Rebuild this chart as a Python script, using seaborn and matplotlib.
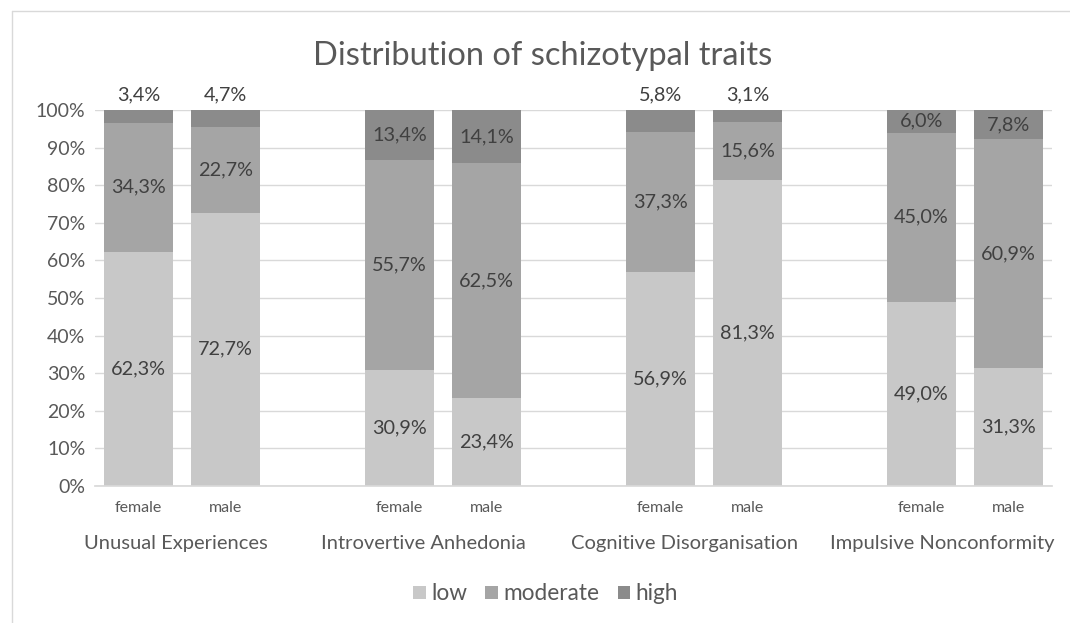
import matplotlib
matplotlib.use("Agg")
import matplotlib.pyplot as plt
from matplotlib.patches import Patch
from matplotlib.lines import Line2D
import seaborn as sns
import pandas as pd
import numpy as np

traits = ["Unusual Experiences", "Introvertive Anhedonia",
          "Cognitive Disorganisation", "Impulsive Nonconformity"]
sexes = ["female", "male"]
levels = ["low", "moderate", "high"]

low_female = [62.3, 30.9, 56.9, 49.0]
moderate_female = [34.3, 55.7, 37.3, 45.0]
high_female = [3.4, 13.4, 5.8, 6.0]
low_male = [72.7, 23.4, 81.3, 31.3]
moderate_male = [22.7, 62.5, 15.6, 60.9]
high_male = [4.7, 14.1, 3.1, 7.8]

colors = {"low": "#c8c8c8", "moderate": "#a5a5a5", "high": "#8b8b8b"}
text_col = "#595959"
label_col = "#404040"
FONT = ["Lato", "DejaVu Sans"]

sns.set_theme(style="white")
plt.rcParams["font.family"] = FONT

rows = []
for i, t in enumerate(traits):
    for j, s in enumerate(sexes):
        lo = (low_female if s == "female" else low_male)[i]
        mo = (moderate_female if s == "female" else moderate_male)[i]
        hi = (high_female if s == "female" else high_male)[i]
        rows.append(dict(trait=t, sex=s, pos=i * 3 + j, low=lo, moderate=mo, high=hi))
df = pd.DataFrame(rows)
df["c_low"] = df["low"]
df["c_mod"] = df["low"] + df["moderate"]
df["c_high"] = df["low"] + df["moderate"] + df["high"]

fig = plt.figure(figsize=(10.7, 6.23), dpi=100)
ax = fig.add_axes([95 / 1070, 1 - 486 / 623, (1052 - 95) / 1070, (486 - 110) / 623])

for col, lev in [("c_high", "high"), ("c_mod", "moderate"), ("c_low", "low")]:
    sns.barplot(data=df, x="pos", y=col, native_scale=True, color=colors[lev],
                width=0.8, saturation=1, errorbar=None, ax=ax, zorder=2,
                linewidth=0, edgecolor="none")

ax.set_xlim(-0.5, 10.5)
ax.set_ylim(0, 100)
ax.set_yticks(np.arange(0, 101, 10))
ax.set_yticklabels([f"{v}%" for v in range(0, 101, 10)], fontsize=14, color=text_col)
ax.yaxis.grid(True, color="#d9d9d9", lw=1, zorder=0)
ax.set_axisbelow(True)
ax.set_xticks(df["pos"])
ax.set_xticklabels(df["sex"], fontsize=11.5, color=text_col)
ax.tick_params(axis="both", length=0)
ax.tick_params(axis="x", pad=11)
ax.tick_params(axis="y", pad=7)
ax.set_xlabel("")
ax.set_ylabel("")
for s in ["top", "right", "left"]:
    ax.spines[s].set_visible(False)
ax.spines["bottom"].set_color("#d9d9d9")

# data labels
for _, r in df.iterrows():
    x = r["pos"]
    ax.text(x, r["low"] / 2, f"{r['low']:.1f}%".replace(".", ","), ha="center", va="center",
            fontsize=14.3, color=label_col, zorder=5)
    ax.text(x, r["low"] + r["moderate"] / 2, f"{r['moderate']:.1f}%".replace(".", ","),
            ha="center", va="center", fontsize=14.3, color=label_col, zorder=5)
    if r["high"] < 6:
        yh = 104
    else:
        yh = r["c_mod"] + r["high"] / 2
    ax.text(x, yh, f"{r['high']:.1f}%".replace(".", ","), ha="center", va="center",
            fontsize=14.3, color=label_col, zorder=5, clip_on=False)

# group labels
label_shift = [-0.07, -0.22, -0.22, -0.26]
for i, t in enumerate(traits):
    ax.text(i * 3 + 0.5 + label_shift[i], -0.152, t, transform=ax.get_xaxis_transform(),
            ha="center", va="center", fontsize=14.5, color=text_col)

fig.text(0.507, 1 - 56 / 623, "Distribution of schizotypal traits", ha="center",
         va="center", fontsize=23.5, color=text_col)

handles = [Patch(facecolor=colors[l], edgecolor="none", label=l) for l in levels]
fig.legend(handles=handles, loc="center", bbox_to_anchor=(0.51, 1 - 594 / 623), ncol=3,
           frameon=False, fontsize=16.3, handlelength=0.55, handleheight=0.55,
           handletextpad=0.25, columnspacing=0.8, labelcolor=text_col)

# chart frame
fig.add_artist(Line2D([12 / 1070, 1], [1 - 11 / 623, 1 - 11 / 623], color="#d9d9d9",
                      lw=1, transform=fig.transFigure))
fig.add_artist(Line2D([12 / 1070, 12 / 1070], [0, 1 - 11 / 623], color="#d9d9d9",
                      lw=1, transform=fig.transFigure))

fig.savefig("out.png", dpi=100, facecolor="white")
